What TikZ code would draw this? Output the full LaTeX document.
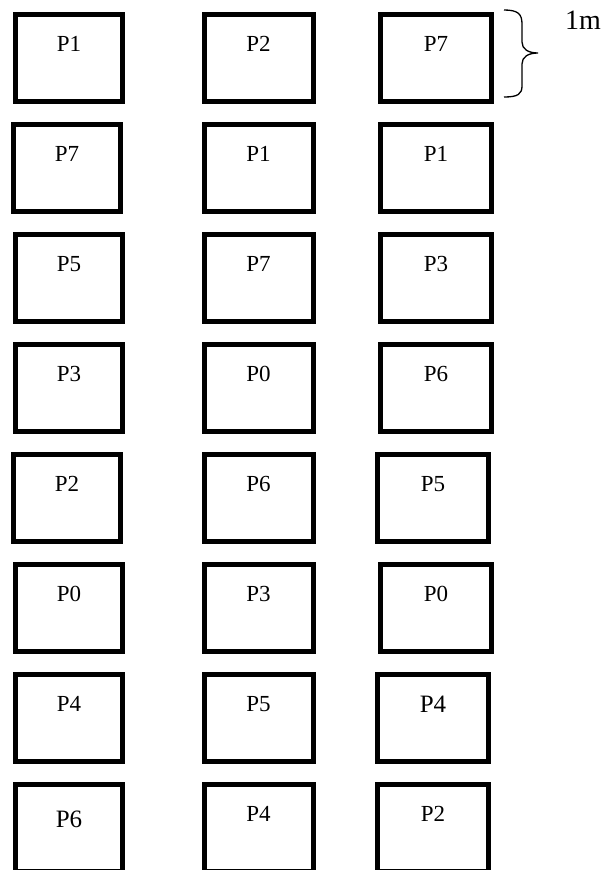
\documentclass[tikz,border=0pt]{standalone}
\usepackage{fontspec}
\setmainfont{Liberation Serif}
\begin{document}
\begin{tikzpicture}[x=1pt,y=-1pt,
  cell/.style={draw=black,line width=5pt,rectangle,minimum height=87pt,inner sep=0pt},
  lbl/.style={font=\fontsize{23}{26}\selectfont,inner sep=0pt,anchor=center},
  biglbl/.style={font=\fontsize{25}{28}\selectfont},
  biglowlbl/.style={font=\fontsize{25}{28}\selectfont,yshift=-5pt},
  plain/.style={},
  bracel/.style={draw=black,line width=1.3pt}]
\useasboundingbox (0,0) rectangle (611,870);
\clip (0,0) rectangle (611,870);
\foreach \r/\yc/\xa/\xb/\xc/\la/\lb/\lc/\sa/\sc in {
  1/58/69/258.5/436/P1/P2/P7/plain/plain,
  2/168/67/258.5/436/P7/P1/P1/plain/plain,
  3/278/69/258.5/436/P5/P7/P3/plain/plain,
  4/388/69/258.5/436/P3/P0/P6/plain/plain,
  5/498/67/258.5/433/P2/P6/P5/plain/plain,
  6/608/69/258.5/436/P0/P3/P0/plain/plain,
  7/718/69/258.5/433/P4/P5/P4/plain/biglbl,
  8/828/69/258.5/433/P6/P4/P2/biglowlbl/plain}{
  \node[cell,minimum width=107pt] (b\r-1) at (\xa,\yc) {};
  \node[cell,minimum width=109pt] (b\r-2) at (\xb,\yc) {};
  \node[cell,minimum width=111pt] (b\r-3) at (\xc,\yc) {};
  \node[lbl,\sa] (t\r-1) at ([yshift=14pt]b\r-1.center) {\la};
  \node[lbl] (t\r-2) at ([yshift=14pt]b\r-2.center) {\lb};
  \node[lbl,\sc] (t\r-3) at ([yshift=14pt]b\r-3.center) {\lc};
}
% brace
\coordinate (bt) at (504,10);
\coordinate (bb) at (504,97);
\coordinate (tip) at (538,53);
\draw[bracel] (bt) .. controls (518,10) and (522,14) .. (522,24) -- (522,42)
  .. controls (522,49) and (528,53) .. (tip)
  .. controls (528,53) and (522,57) .. (522,64) -- (522,86)
  .. controls (522,94) and (518,97) .. (bb);
\node[font=\fontsize{28}{32}\selectfont,anchor=base west,inner sep=0pt] (len) at (565,29) {1m};
\end{tikzpicture}
\end{document}
